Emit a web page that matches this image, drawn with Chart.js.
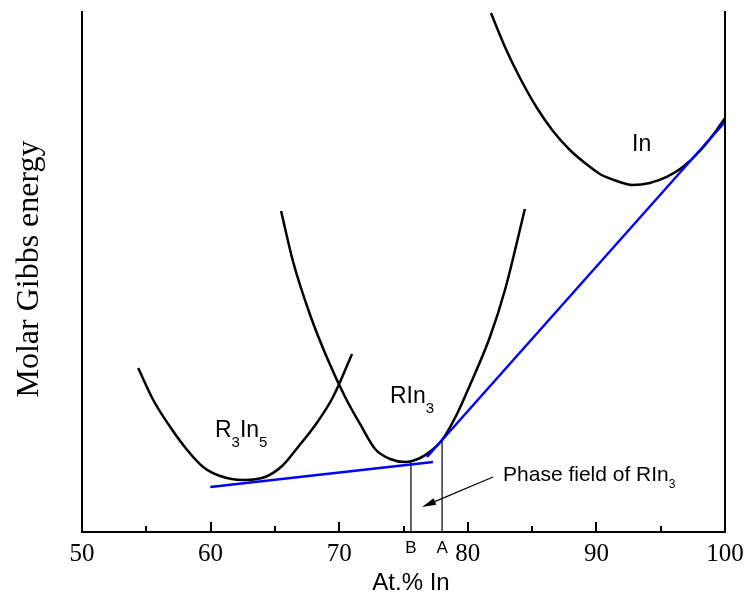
<!DOCTYPE html>
<html>
<head>
<meta charset="utf-8">
<script src="https://cdn.jsdelivr.net/npm/chart.js@4.4.1/dist/chart.umd.min.js"></script>
<style>
  html, body { margin: 0; padding: 0; background: #ffffff; }
  #wrap { width: 748px; height: 594px; position: relative; }
</style>
</head>
<body>
<div id="wrap"><canvas id="c" width="748" height="594"></canvas></div>
<script>
// ---- data (x: At.% In, y: molar Gibbs energy, arbitrary units 0..100) ----
const xTickValues = [50, 60, 70, 80, 90, 100];
const r3in5X = [54.37, 55.54, 56.86, 58.18, 59.42, 60.74, 62.53, 64.24, 65.56, 66.80, 68.20, 69.52, 71.00];
const r3in5Y = [31.54, 25.38, 20.19, 15.77, 12.50, 10.77, 10.00, 10.58, 12.69, 16.35, 20.77, 25.96, 34.23];
const rin3X = [65.48, 66.42, 67.74, 69.06, 70.46, 71.62, 72.79, 73.96, 75.12, 76.29, 77.22, 78.00, 79.16, 80.17, 81.72, 82.89, 84.44];
const rin3Y = [61.73, 51.92, 41.73, 33.46, 25.96, 20.77, 15.96, 14.04, 13.46, 14.23, 15.77, 17.69, 22.69, 28.27, 37.50, 46.54, 62.12];
const inX = [81.80, 82.89, 84.06, 85.38, 86.62, 87.94, 89.11, 90.27, 91.59, 92.83, 94.15, 95.47, 96.72, 98.04, 99.36, 100.0];
const inY = [99.80, 93.27, 87.31, 81.54, 77.12, 73.46, 70.96, 68.85, 67.50, 66.73, 67.12, 68.27, 70.19, 73.27, 77.31, 79.62];
const tangentLowX = [59.98, 77.30];
const tangentLowY = [8.65, 13.46];
const tangentHighX = [76.83, 100.0];
const tangentHighY = [14.42, 78.85];
const markerB = { x: 75.58, y: 13.46, label: 'B' };
const markerA = { x: 78.00, y: 17.88, label: 'A' };
const arrowFrom = { x: 81.96, y: 10.58 };
const arrowTo = { x: 76.44, y: 4.81 };

const toPts = (xs, ys) => xs.map((x, i) => ({ x: x, y: ys[i] }));

// ---- styles ----
const SERIF = '"Liberation Serif", "Times New Roman", serif';
const SANS = '"Liberation Sans", Arial, sans-serif';
const BLACK = '#000000';
const BLUE = '#0000ff';

const curveLabels = [
  { x: 92.77, y: 73.3, parts: [['In', 0]], size: 23, sub: 15, subOff: 10 },
  { x: 73.95, y: 24.76, parts: [['RIn', 0], ['3', 1]], size: 23, sub: 15, subOff: 10 },
  { x: 60.34, y: 18.23, parts: [['R', 0], ['3', 1], ['In', 0], ['5', 1]], size: 23, sub: 15, subOff: 10 },
  { x: 82.74, y: 9.79, parts: [['Phase field of RIn', 0], ['3', 1]], size: 21, sub: 12, subOff: 7 }
];

function drawRich(ctx, px, py, item) {
  let cx = px;
  item.parts.forEach(([t, s]) => {
    ctx.font = (s ? item.sub : item.size) + 'px ' + SANS;
    ctx.fillText(t, cx, py + (s ? item.subOff : 0));
    cx += ctx.measureText(t).width;
  });
}

const decorPlugin = {
  id: 'decor',
  afterDatasetsDraw(chart) {
    const { ctx, chartArea: a, scales: { x, y } } = chart;
    ctx.save();
    ctx.strokeStyle = BLACK;
    ctx.lineWidth = 2;
    ctx.lineCap = 'square';
    ctx.beginPath();
    ctx.moveTo(a.left, a.top); ctx.lineTo(a.left, a.bottom); ctx.lineTo(a.right, a.bottom); ctx.lineTo(a.right, a.top);
    ctx.stroke();
    ctx.lineCap = 'butt';
    for (let v = 55; v < 100; v += 5) {
      const px = Math.round(x.getPixelForValue(v));
      const len = (v % 10 === 0) ? 10 : 6;
      ctx.beginPath();
      ctx.moveTo(px, a.bottom);
      ctx.lineTo(px, a.bottom - len);
      ctx.stroke();
    }
    // arrow
    const fx = x.getPixelForValue(arrowFrom.x), fy = y.getPixelForValue(arrowFrom.y);
    const tx = x.getPixelForValue(arrowTo.x), ty = y.getPixelForValue(arrowTo.y);
    const ang = Math.atan2(ty - fy, tx - fx);
    const hl = 14, hw = 3.5;
    ctx.lineWidth = 1.2;
    ctx.beginPath();
    ctx.moveTo(fx, fy);
    ctx.lineTo(tx - Math.cos(ang) * hl * 0.8, ty - Math.sin(ang) * hl * 0.8);
    ctx.stroke();
    ctx.fillStyle = BLACK;
    ctx.beginPath();
    ctx.moveTo(tx, ty);
    ctx.lineTo(tx - Math.cos(ang) * hl - Math.sin(ang) * hw, ty - Math.sin(ang) * hl + Math.cos(ang) * hw);
    ctx.lineTo(tx - Math.cos(ang) * hl + Math.sin(ang) * hw, ty - Math.sin(ang) * hl - Math.cos(ang) * hw);
    ctx.closePath();
    ctx.fill();
    // curve labels
    ctx.fillStyle = BLACK;
    ctx.textAlign = 'left';
    ctx.textBaseline = 'alphabetic';
    curveLabels.forEach(item => drawRich(ctx, x.getPixelForValue(item.x), y.getPixelForValue(item.y), item));
    // B / A labels under the axis
    ctx.font = '17px ' + SANS;
    ctx.textAlign = 'center';
    [markerB, markerA].forEach(m => {
      ctx.fillText(m.label, x.getPixelForValue(m.x), a.bottom + 21);
    });
    // axis titles
    ctx.font = '24px ' + SANS;
    ctx.fillText('At.% In', 411, 590);
    ctx.save();
    ctx.translate(38, (a.top + a.bottom) / 2 - 3);
    ctx.rotate(-Math.PI / 2);
    ctx.font = '32px ' + SERIF;
    ctx.textAlign = 'center';
    ctx.fillText('Molar Gibbs energy', 0, 0);
    ctx.restore();
    ctx.restore();
  }
};

const lineDs = (label, pts, color, width, extra) => Object.assign({
  label: label,
  data: pts,
  showLine: true,
  borderColor: color,
  backgroundColor: color,
  borderWidth: width,
  pointRadius: 0,
  pointHoverRadius: 0,
  fill: false,
  tension: 0
}, extra || {});

const smooth = { cubicInterpolationMode: 'monotone' };

new Chart(document.getElementById('c'), {
  type: 'scatter',
  data: {
    datasets: [
      lineDs('Common tangent (R3In5–RIn3)', toPts(tangentLowX, tangentLowY), BLUE, 2.5),
      lineDs('Common tangent (RIn3–In)', toPts(tangentHighX, tangentHighY), BLUE, 2.5),
      lineDs('B', [{ x: markerB.x, y: 0 }, { x: markerB.x, y: markerB.y }], BLACK, 1.2),
      lineDs('A', [{ x: markerA.x, y: 0 }, { x: markerA.x, y: markerA.y }], BLACK, 1.2),
      lineDs('R3In5', toPts(r3in5X, r3in5Y), BLACK, 2.5, smooth),
      lineDs('RIn3', toPts(rin3X, rin3Y), BLACK, 2.5, smooth),
      lineDs('In', toPts(inX, inY), BLACK, 2.5, smooth)
    ]
  },
  options: {
    responsive: false,
    animation: false,
    events: [],
    layout: { padding: { left: 82, right: 23, top: 12, bottom: 0 } },
    plugins: { legend: { display: false }, tooltip: { enabled: false }, title: { display: false } },
    scales: {
      x: {
        type: 'linear',
        min: 50, max: 100,
        afterFit(scale) { scale.height = 62; scale.paddingLeft = 0; scale.paddingRight = 0; },
        afterBuildTicks(scale) { scale.ticks = xTickValues.map(v => ({ value: v })); },
        grid: { display: false, drawTicks: false },
        border: { display: false },
        ticks: { color: BLACK, padding: 7, font: { family: SERIF, size: 25 }, maxRotation: 0, autoSkip: false }
      },
      y: {
        type: 'linear',
        min: 0, max: 100,
        display: false
      }
    }
  },
  plugins: [decorPlugin]
});
</script>
</body>
</html>
